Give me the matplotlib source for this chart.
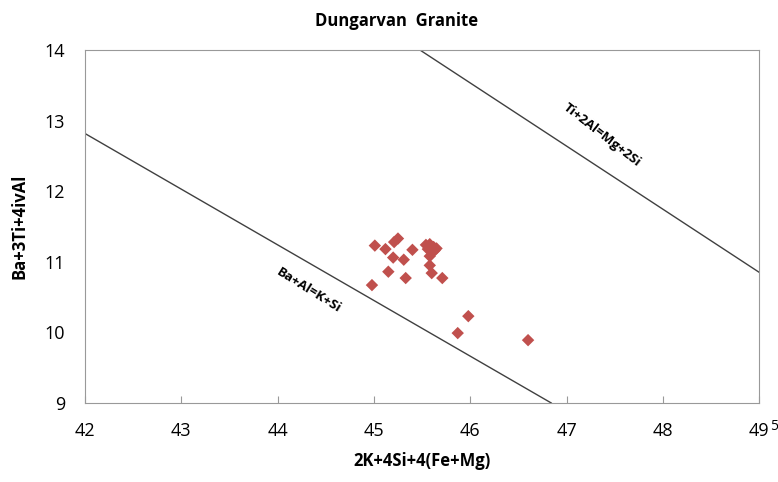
import matplotlib.pyplot as plt
import numpy as np

# data
x_vals = [45.01, 45.12, 45.21, 45.25, 45.40, 45.20, 45.31, 45.15, 45.33, 44.98,
          45.54, 45.58, 45.62, 45.60, 45.63, 45.56, 45.58, 45.65,
          45.58, 45.60, 45.71, 45.98, 45.87, 46.60]
y_vals = [11.23, 11.18, 11.28, 11.33, 11.17, 11.06, 11.03, 10.86, 10.77, 10.67,
          11.24, 11.25, 11.21, 11.14, 11.16, 11.18, 11.08, 11.19,
          10.95, 10.84, 10.77, 10.23, 9.99, 9.89]

# reference lines (endpoints)
line1_x = [42.0, 46.84]
line1_y = [12.82, 9.0]
line2_x = [45.48, 49.0]
line2_y = [14.0, 10.85]

x_ticks = [42, 43, 44, 45, 46, 47, 48, 49]
y_ticks = [9, 10, 11, 12, 13, 14]

plt.rcParams['font.family'] = ['Open Sans', 'DejaVu Sans']

fig = plt.figure(figsize=(7.78, 4.82), dpi=100)
ax = fig.add_axes([0.109, 0.164, 0.867, 0.732])

ax.plot(line1_x, line1_y, color="#404040", lw=1.0)
ax.plot(line2_x, line2_y, color="#404040", lw=1.0)
ax.scatter(x_vals, y_vals, marker="D", s=40, color="#C0504D", edgecolors="none", zorder=3)

ax.set_xlim(42, 49)
ax.set_ylim(9, 14)
ax.set_xticks(x_ticks)
ax.set_yticks(y_ticks)
ax.tick_params(axis="x", direction="in", length=5, color="#999999", labelsize=13, pad=14)
ax.tick_params(axis="y", length=0, labelsize=13, pad=14)
for s in ax.spines.values():
    s.set_color("#999999")

ax.text(49.11, 8.66, "5", fontsize=10, ha="left", va="center")

ax.text(44.32, 10.59, "Ba+Al=K+Si", rotation=-32, fontsize=9.5, fontweight="bold",
        ha="center", va="center")
ax.text(47.37, 12.80, "Ti+2Al=Mg+2Si", rotation=-38, fontsize=9.5, fontweight="bold",
        ha="center", va="center")

ax.set_xlabel("2K+4Si+4(Fe+Mg)", fontsize=12, fontweight="bold", labelpad=8)
ax.set_ylabel("Ba+3Ti+4ivAl", fontsize=12, fontweight="bold", labelpad=12)
fig.suptitle("Dungarvan  Granite", x=0.51, y=0.975, fontsize=12, fontweight="bold")

fig.savefig("out.png", dpi=100)
